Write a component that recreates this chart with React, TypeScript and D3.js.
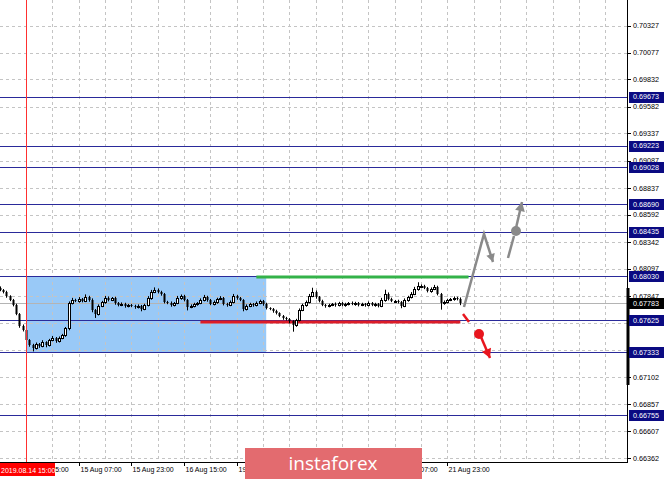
import React from 'react';
import * as d3 from 'd3';

const W = 665;
const H = 479;

const priceTicks = [0.70327, 0.70077, 0.69832, 0.69582, 0.69337, 0.69087, 0.68837, 0.68592, 0.68342, 0.68097, 0.67847, 0.67597, 0.67352, 0.67102, 0.66857, 0.66607, 0.66362];
const levels = [0.69673, 0.69223, 0.69028, 0.6869, 0.68435, 0.6803, 0.67625, 0.67333, 0.66755];
const currentPrice = 0.67783;
const timeLabels = ['14 Aug 15:00', '15 Aug 07:00', '15 Aug 23:00', '16 Aug 15:00', '19 Aug 07:00', '19 Aug 23:00', '20 Aug 15:00', '21 Aug 07:00', '21 Aug 23:00'];
const markerLabel = '2019.08.14 15:00';

const firstOpen = 0.6792;
const closes = [
  0.67901, 0.67883, 0.67846, 0.6781, 0.67764, 0.67681, 0.67571, 0.67534, 0.67442, 0.67397,
  0.67369, 0.67406, 0.67387, 0.67424, 0.67397, 0.67442, 0.67461, 0.67433, 0.67461, 0.67488,
  0.67553, 0.67782, 0.6781, 0.67801, 0.67819, 0.67801, 0.67837, 0.6781, 0.67718, 0.67681,
  0.67755, 0.67791, 0.67828, 0.6781, 0.67828, 0.67782, 0.67764, 0.67773, 0.67755, 0.67764,
  0.67755, 0.67745, 0.67755, 0.67727, 0.67764, 0.67828, 0.67883, 0.67901, 0.67883, 0.67865,
  0.67791, 0.67782, 0.67764, 0.67782, 0.67828, 0.67846, 0.6781, 0.67745, 0.67755, 0.67773,
  0.67782, 0.6781, 0.67837, 0.6781, 0.67773, 0.67791, 0.67819, 0.67828, 0.67773, 0.67764,
  0.67791, 0.67846, 0.67828, 0.6781, 0.67727, 0.67755, 0.67773, 0.67764, 0.67782, 0.67801,
  0.67773, 0.67736, 0.67727, 0.67709, 0.6769, 0.67663, 0.67644, 0.67635, 0.67617, 0.6758,
  0.67626, 0.67718, 0.67764, 0.67791, 0.67846, 0.67883, 0.67837, 0.67801, 0.67764, 0.67755,
  0.67764, 0.67773, 0.67764, 0.67782, 0.67764, 0.67773, 0.67782, 0.67773, 0.67782, 0.67764,
  0.67773, 0.67764, 0.67782, 0.67764, 0.67773, 0.67755, 0.6781, 0.67865, 0.67819, 0.67801,
  0.67801, 0.67791, 0.67755, 0.6781, 0.67837, 0.67865, 0.67911, 0.67938, 0.67938, 0.6792,
  0.67892, 0.67911, 0.67929, 0.67865, 0.67782, 0.67791, 0.6781, 0.67819, 0.67828, 0.67819,
  0.67783,
];
// wick lengths in points (0.00001)
const wickUp = [
  15, 10, 12, 8, 10, 12, 10, 15, 8, 10,
  12, 15, 10, 18, 8, 12, 20, 10, 15, 12,
  10, 15, 20, 12, 18, 10, 25, 12, 15, 10,
  15, 12, 20, 15, 10, 12, 10, 15, 12, 10,
  10, 12, 15, 10, 12, 18, 20, 25, 15, 12,
  10, 12, 15, 10, 20, 15, 12, 10, 15, 12,
  10, 15, 20, 12, 10, 15, 12, 18, 10, 12,
  15, 20, 12, 10, 8, 15, 12, 10, 15, 12,
  10, 12, 8, 10, 12, 8, 10, 12, 10, 8,
  12, 15, 12, 15, 20, 40, 15, 10, 12, 10,
  12, 10, 15, 12, 10, 12, 10, 15, 12, 10,
  12, 10, 15, 10, 12, 10, 20, 40, 15, 12,
  10, 12, 10, 15, 12, 18, 20, 35, 15, 12,
  10, 15, 20, 12, 10, 15, 12, 10, 15, 12,
  15,
];
const wickDown = [
  10, 12, 15, 10, 12, 10, 15, 12, 10, 15,
  30, 12, 15, 10, 20, 12, 10, 15, 12, 10,
  15, 20, 12, 10, 15, 12, 10, 15, 20, 35,
  12, 10, 15, 12, 10, 15, 12, 10, 15, 12,
  10, 15, 12, 20, 10, 12, 15, 10, 12, 15,
  12, 10, 15, 12, 10, 15, 12, 30, 10, 12,
  15, 10, 12, 15, 10, 12, 15, 10, 12, 15,
  10, 12, 15, 10, 20, 12, 10, 15, 12, 10,
  15, 12, 10, 15, 12, 10, 15, 12, 20, 60,
  15, 12, 10, 15, 12, 10, 15, 12, 10, 15,
  12, 10, 15, 12, 10, 15, 12, 10, 15, 12,
  10, 15, 12, 10, 15, 12, 10, 15, 12, 10,
  15, 12, 20, 10, 15, 12, 10, 15, 12, 10,
  12, 15, 10, 12, 60, 15, 12, 10, 15, 12,
  20,
];

// zone / signal annotations (prices and candle indices)
const zone = { from: 8, to: 81, top: 0.6803, bottom: 0.67333 };
const buyLine = { from: 78, to: 142.5, price: 0.68022 };
const sellLine = { from: 61, to: 140, price: 0.67608 };

const FONT = 'Liberation Sans, Arial, sans-serif';

export default function App() {
  const plotRight = 627;
  const plotBottom = 462;
  const y = d3.scaleLinear().domain([0.66362, 0.70327]).range([458, 25.5]);
  const x = d3.scaleLinear().domain([8, 136]).range([26, 447.2]);

  const candles = closes.map((c, i) => {
    const o = i === 0 ? firstOpen : closes[i - 1];
    const hi = Math.max(o, c) + wickUp[i] * 1e-5;
    const lo = Math.min(o, c) - wickDown[i] * 1e-5;
    return { i, o, c, hi, lo };
  });

  const gridX: number[] = [];
  for (let k = 8; x(k) < plotRight; k += 8) gridX.push(x(k));

  const wm = { x: 245, y: 448, w: 177, h: 31 };
  const redBox = { x: 0, y: 463, w: 55, h: 13 };

  // price labels fully hidden behind the level boxes are not drawn
  const boxYs = [...levels, currentPrice].map((p) => y(p));
  const visibleTicks = priceTicks.filter((p) => boxYs.every((by) => Math.abs(by - y(p)) > 4));

  const timeItems = timeLabels.map((t, j) => ({ t, tx: Math.round(x(8 + 16 * j)) + 0.5 }));
  const labelW = 45;
  const shownTime = timeItems.filter(({ tx }) => !(tx + 1 >= wm.x && tx + 1 + labelW <= wm.x + wm.w));

  const arrow = (pts: [number, number][], color: string, w: number, head = 8) => {
    const line = d3.line()(pts) as string;
    const [x1, y1] = pts[pts.length - 2];
    const [x2, y2] = pts[pts.length - 1];
    const a = Math.atan2(y2 - y1, x2 - x1);
    const hw = head * 0.55;
    const bx = x2 - head * Math.cos(a);
    const by = y2 - head * Math.sin(a);
    const p1 = [bx + hw * Math.sin(a), by - hw * Math.cos(a)];
    const p2 = [bx - hw * Math.sin(a), by + hw * Math.cos(a)];
    return { line, head: `M${x2},${y2}L${p1[0]},${p1[1]}L${p2[0]},${p2[1]}Z`, color, w };
  };

  const grayA = arrow([[464, 307], [484, 234], [493, 262]], '#8a8a8a', 2.5);
  const grayB1 = d3.line()([[508, 258], [514, 236]]) as string;
  const grayB = arrow([[516, 228], [522, 202]], '#8a8a8a', 2.5, 9);
  const redB = arrow([[481, 337], [490, 358]], '#e8161e', 2.5, 9);

  return (
    <svg width={W} height={H} style={{ position: 'absolute', left: 0, top: 0, background: '#fff' }} fontFamily={FONT}>
      <defs>
        <clipPath id="timeClip">
          <path d={`M${redBox.w},${plotBottom}H${wm.x}V${H}H${redBox.w}Z M${wm.x + wm.w},${plotBottom}H${W}V${H}H${wm.x + wm.w}Z`} />
        </clipPath>
      </defs>
      <rect x={0} y={0} width={W} height={H} fill="#fff" />
      {/* blue zone */}
      <rect x={x(zone.from)} y={y(zone.top)} width={x(zone.to) - x(zone.from)} height={y(zone.bottom) - y(zone.top)} fill="#99c9f7" />
      {/* grid */}
      {priceTicks.map((p) => (
        <line key={'h' + p} x1={0} x2={plotRight} y1={Math.round(y(p)) + 0.5} y2={Math.round(y(p)) + 0.5} stroke="#c4c4c4" strokeDasharray="3,3" />
      ))}
      {gridX.map((gx) => (
        <line key={'v' + gx} x1={Math.round(gx) + 0.5} x2={Math.round(gx) + 0.5} y1={0} y2={plotBottom} stroke="#c4c4c4" strokeDasharray="3,3" />
      ))}
      {/* level lines */}
      {levels.map((p) => (
        <line key={'l' + p} x1={0} x2={plotRight} y1={Math.round(y(p)) + 0.5} y2={Math.round(y(p)) + 0.5} stroke="#2a2a9a" strokeWidth={1} />
      ))}
      {/* current price line */}
      <line x1={0} x2={plotRight} y1={Math.round(y(currentPrice)) + 0.5} y2={Math.round(y(currentPrice)) + 0.5} stroke="#b4b4b4" />
      {/* signal lines */}
      <line x1={x(buyLine.from)} x2={x(buyLine.to)} y1={y(buyLine.price)} y2={y(buyLine.price)} stroke="#33b249" strokeWidth={3} />
      <line x1={x(sellLine.from)} x2={x(sellLine.to)} y1={y(sellLine.price)} y2={y(sellLine.price)} stroke="#dd1c28" strokeWidth={3} />
      {/* candles */}
      {candles.map((d) => {
        const cx = Math.round(x(d.i));
        const bull = d.c >= d.o;
        const top = Math.round(y(Math.max(d.o, d.c)));
        const bot = Math.round(y(Math.min(d.o, d.c)));
        const h = Math.max(1, bot - top);
        return (
          <g key={d.i}>
            <line x1={cx + 0.5} x2={cx + 0.5} y1={y(d.hi)} y2={y(d.lo)} stroke="#000" strokeWidth={1} />
            {bull ? (
              <rect x={cx - 0.5} y={top + 0.5} width={2} height={h} fill="#fff" stroke="#000" strokeWidth={1} />
            ) : (
              <rect x={cx - 0.5} y={top} width={2} height={h} fill="#000" />
            )}
          </g>
        );
      })}
      {/* red vertical marker */}
      <line x1={Math.round(x(8)) + 0.5} x2={Math.round(x(8)) + 0.5} y1={0} y2={plotBottom} stroke="#ff3030" strokeWidth={1} />
      {/* arrows */}
      <path d={grayA.line} fill="none" stroke={grayA.color} strokeWidth={grayA.w} />
      <path d={grayA.head} fill={grayA.color} />
      <path d={grayB1} fill="none" stroke="#8a8a8a" strokeWidth={2.5} />
      <circle cx={516} cy={231} r={5} fill="#8a8a8a" />
      <path d={grayB.line} fill="none" stroke={grayB.color} strokeWidth={grayB.w} />
      <path d={grayB.head} fill={grayB.color} />
      <line x1={463} y1={314} x2={469} y2={322} stroke="#e8161e" strokeWidth={2.5} />
      <circle cx={479} cy={334} r={5} fill="#e8161e" />
      <path d={redB.line} fill="none" stroke={redB.color} strokeWidth={redB.w} />
      <path d={redB.head} fill={redB.color} />
      {/* axes */}
      <rect x={plotRight + 1} y={0} width={W - plotRight} height={H} fill="#fff" />
      <line x1={plotRight + 0.5} x2={plotRight + 0.5} y1={0} y2={plotBottom + 1} stroke="#000" />
      <line x1={plotRight + 1} x2={plotRight + 1} y1={288} y2={385} stroke="#000" strokeWidth={3} />
      <line x1={0} x2={plotRight} y1={plotBottom + 0.5} y2={plotBottom + 0.5} stroke="#000" />
      {priceTicks.map((p) => (
        <line key={'tk' + p} x1={plotRight} x2={plotRight + 4} y1={Math.round(y(p)) + 0.5} y2={Math.round(y(p)) + 0.5} stroke="#000" />
      ))}
      {visibleTicks.map((p) => (
        <text key={'t' + p} x={633} y={y(p)} dy="0.35em" fontSize={7.2} fill="#000">{p.toFixed(5)}</text>
      ))}
      {levels.map((p) => (
        <g key={'lb' + p}>
          <rect x={629} y={Math.round(y(p)) - 5} width={35} height={11} fill="#0a0a82" />
          <text x={633} y={y(p)} dy="0.35em" fontSize={7.2} fill="#fff">{p.toFixed(5)}</text>
        </g>
      ))}
      <rect x={629} y={Math.round(y(currentPrice)) - 5} width={35} height={11} fill="#000" />
      <text x={633} y={y(currentPrice)} dy="0.35em" fontSize={7.2} fill="#fff">{currentPrice.toFixed(5)}</text>
      {/* time axis */}
      {timeItems.map(({ t, tx }) => (
        <line key={'tt' + t} x1={tx} x2={tx} y1={plotBottom} y2={plotBottom + 4} stroke="#000" />
      ))}
      <g clipPath="url(#timeClip)">
        {shownTime.map(({ t, tx }) => (
          <text key={t} x={tx + 1} y={472} fontSize={7} fill="#000">{t}</text>
        ))}
      </g>
      <rect x={redBox.x} y={redBox.y} width={redBox.w} height={redBox.h} fill="#ff0000" />
      <text x={1} y={472.5} fontSize={7} fill="#fff">{markerLabel}</text>
      {/* watermark */}
      <rect x={wm.x} y={wm.y} width={wm.w} height={wm.h} fill="#e36b6f" />
      <text x={333} y={470} fontSize={19} fill="#fff" textAnchor="middle" fontFamily="Open Sans, sans-serif">instaforex</text>
    </svg>
  );
}
